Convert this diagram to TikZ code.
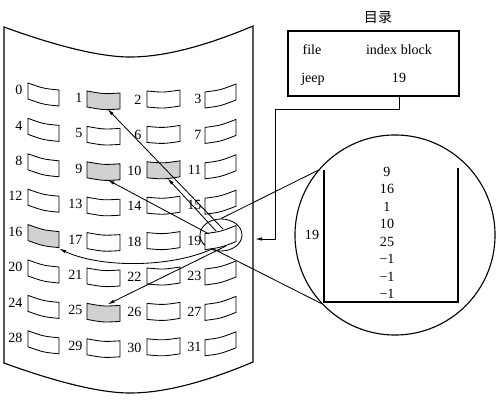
\documentclass[tikz,border=0pt]{standalone}
\usepackage{fontspec}
\setmainfont{Liberation Serif}
\newfontfamily\cjkfont{Noto Sans CJK SC}
\usetikzlibrary{arrows.meta,shapes.geometric}

\begin{document}
\begin{tikzpicture}[x=0.025cm,y=-0.025cm,
  blk/.style={draw=black,semithick},
  lab/.style={anchor=east,inner sep=1pt},
  txt/.style={inner sep=1pt},
  ptr/.style={semithick,-{Latex[length=5pt,width=2.4pt]}}]
\useasboundingbox (0,0) rectangle (498,412);
% disk surface
\draw[thick] (4,27) .. controls (45,42) and (95,57) .. (130,57) .. controls (170,57) and (215,42) .. (253,26)
  -- (253,362) .. controls (215,378) and (170,393) .. (130,393) .. controls (95,393) and (45,378) .. (4,363) -- cycle;
% magnifier
\node[draw,semithick,ellipse,minimum width=1.05cm,minimum height=0.8cm,inner sep=0] (ell) at (221,235) {};
\node[draw,thick,circle,minimum size=5cm,inner sep=0] (mag) at (395,235) {};
\draw[semithick] (ell.north) -- (mag.140);
\draw[semithick] (ell.205) -- (mag.223);
% blocks
\foreach \r in {0,...,7} {
  \foreach \c/\xl/\xr/\yl/\yr/\lx/\ly in {0/28/59/-8/-1/24/-9, 1/87/120/0/2/84/-1, 2/147/180/0/-1/143/1, 3/205/236/1/-7/203/0} {
    \pgfmathtruncatemacro\n{4*\r+\c}
    \pgfmathsetmacro\y{99+35.4*\r}
    \pgfmathsetmacro\xm{(\xl+\xr)/2}
    \pgfmathsetmacro\ym{\y+(\yl+\yr)/2}
    \pgfmathtruncatemacro\g{18*((\n==1)||(\n==9)||(\n==10)||(\n==16)||(\n==25))}
    \filldraw[blk,fill=black!\g] (\xl,\y+\yl-8) .. controls (\xm,\ym-6) .. (\xr,\y+\yr-8)
      -- (\xr,\y+\yr+8) .. controls (\xm,\ym+10) .. (\xl,\y+\yl+8) -- cycle;
    \node[lab] (n\n) at (\lx,\y+\ly) {\n};
    \coordinate (b\n-n) at (\xm+4,\ym-8);
    \coordinate (b\n-s) at (\xm+4,\ym+9);
    \coordinate (b\n-se) at (\xr,\y+\yr+9);
  }
}
% pointers of index block 19
\coordinate (p1) at (223,229);
\coordinate (p10) at (216,231);
\coordinate (p9) at (209,234);
\coordinate (p25) at (226,246);
\coordinate (p16) at (212,249);
\draw[ptr] (p1) -- (b1-s);
\draw[ptr] (p10) -- (b10-s);
\draw[ptr] (p9) -- (b9-s);
\draw[ptr] (p25) -- (b25-n);
\draw[ptr] (p16) .. controls (170,268) and (100,268) .. (b16-se);
% directory
\node[txt,anchor=base] (dirt) at (378,23) {\cjkfont 目录};
\node[draw,thick,minimum width=4.275cm,minimum height=1.625cm,inner sep=0] (dir) at (373.5,63.5) {};
\node[txt,anchor=base] (hf) at (312,55) {file};
\node[txt,anchor=base] (hi) at (399,55) {index block};
\node[txt,anchor=base] (jeep) at (313,83) {jeep};
\node[txt,anchor=base] (j19) at (399,83) {19};
\coordinate (elb) at (275,109);
\coordinate (hit) at (255,239);
\draw[ptr] (j19 |- dir.south) |- (elb) |- (hit);
% index block contents
\draw[line width=1.1pt] (324,170) -- (324,302) -- (458,302) -- (458,168);
\node[txt] (ib) at (312,235) {19};
\foreach \v [count=\i] in {9,16,1,10,25,−1,−1,−1} {
  \node[txt] (v\i) at (387,172+17.4*\i-17.4) {\v};
}
\end{tikzpicture}
\end{document}
